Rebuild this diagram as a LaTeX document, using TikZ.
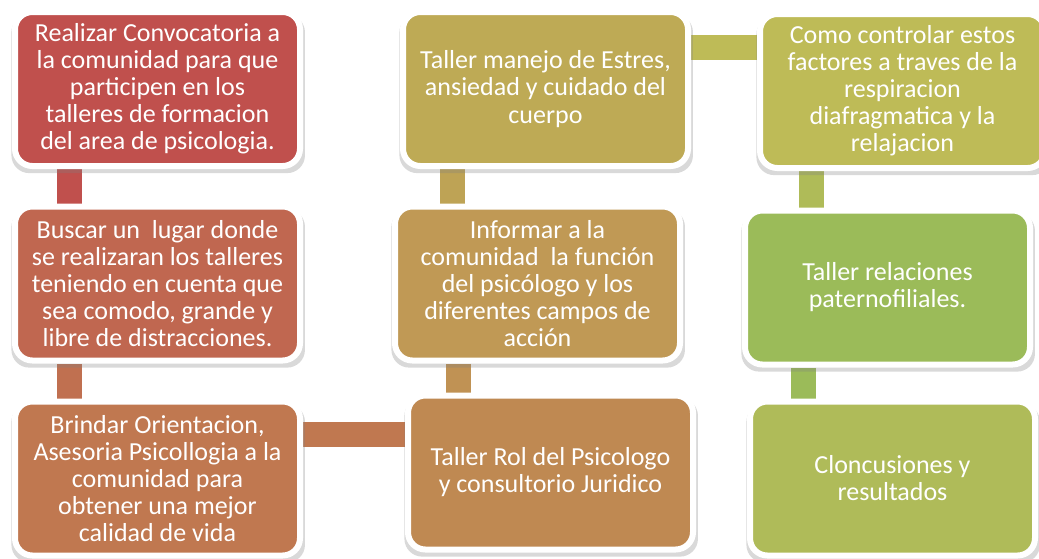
\documentclass[tikz,border=0pt]{standalone}
\usepackage{fontspec}
\setmainfont{Carlito}
\usetikzlibrary{shadows,backgrounds}
\definecolor{stepa}{RGB}{192,80,77}
\definecolor{stepb}{RGB}{192,103,80}
\definecolor{stepc}{RGB}{192,120,80}
\definecolor{stepd}{RGB}{191,137,82}
\definecolor{stepe}{RGB}{192,153,85}
\definecolor{stepf}{RGB}{190,170,85}
\definecolor{stepg}{RGB}{190,187,87}
\definecolor{steph}{RGB}{155,187,89}
\definecolor{stepi}{RGB}{175,187,89}
\definecolor{linkbc}{RGB}{192,112,80}
\definecolor{linkde}{RGB}{192,146,84}
\definecolor{linkef}{RGB}{190,163,85}
\definecolor{linkgh}{RGB}{175,187,88}
\tikzset{stepbox/.style={draw=white,line width=4.5pt,rounded corners=13pt,
    minimum width=213.75pt,minimum height=115.5pt,inner sep=0pt,align=center,
    text=white,font=\fontsize{19.5}{20.3}\selectfont,
    drop shadow={shadow scale=1.03,shadow xshift=0.5pt,shadow yshift=-3.5pt,opacity=0.3}},
  link/.style={line width=18.75pt}}

\begin{document}
\begin{tikzpicture}[x=0.75pt,y=-0.75pt]
  \useasboundingbox (0,0) rectangle (1039,558);
  \node[stepbox,fill=stepa] (n1) at (157.5,89) {Realizar Convocatoria a\\la comunidad para que\\participen en los\\talleres de formacion\\del area de psicologia.};
  \node[stepbox,fill=stepb] (n2) at (157.5,283.5) {Buscar un\ \ lugar donde\\se realizaran los talleres\\teniendo en cuenta que\\sea comodo, grande y\\libre de distracciones.};
  \node[stepbox,fill=stepc] (n3) at (157.5,478.5) {Brindar Orientacion,\\Asesoria Psicollogia a la\\comunidad para\\obtener una mejor\\calidad de vida};
  \node[stepbox,fill=stepd] (n4) at (550.5,472.5) {Taller Rol del Psicologo\\y consultorio Juridico};
  \node[stepbox,fill=stepe] (n5) at (537.5,283.5) {Informar a la\\comunidad\ \ la función\\del psicólogo y los\\diferentes campos de\\acción};
  \node[stepbox,fill=stepf] (n6) at (545.5,89) {Taller manejo de Estres,\\ansiedad y cuidado del\\cuerpo};
  \node[stepbox,fill=stepg] (n7) at (902.5,91) {Como controlar estos\\factores a traves de la\\respiracion\\diafragmatica y la\\relajacion};
  \node[stepbox,fill=steph] (n8) at (887.5,287.5) {Taller relaciones\\paternofiliales.};
  \node[stepbox,fill=stepi] (n9) at (892.5,478.5) {Cloncusiones y\\resultados};
  \begin{scope}[on background layer]
    \draw[link,stepa] ([xshift=43pt]n1.south west) -- ([xshift=43pt]n2.north west);
    \draw[link,linkbc] ([xshift=43pt]n2.south west) -- ([xshift=43pt]n3.north west);
    \draw[link,stepc] ([yshift=-27pt]n3.north east) -- ([yshift=-27pt]n3.north east -| n4.west);
    \draw[link,linkde] ([xshift=49.5pt]n5.south west) -- ([xshift=49.5pt]n5.south west |- n4.north);
    \draw[link,linkef] ([xshift=39.4pt]n6.south west) -- ([xshift=39.4pt]n6.south west |- n5.north);
    \draw[link,stepg] ([yshift=-29pt]n6.north east) -- ([yshift=-29pt]n6.north east -| n7.west);
    \draw[link,linkgh] ([xshift=41pt]n7.south west) -- ([xshift=41pt]n7.south west |- n8.north);
    \draw[link,steph] ([xshift=46pt]n8.south west) -- ([xshift=46pt]n8.south west |- n9.north);
  \end{scope}
\end{tikzpicture}
\end{document}
